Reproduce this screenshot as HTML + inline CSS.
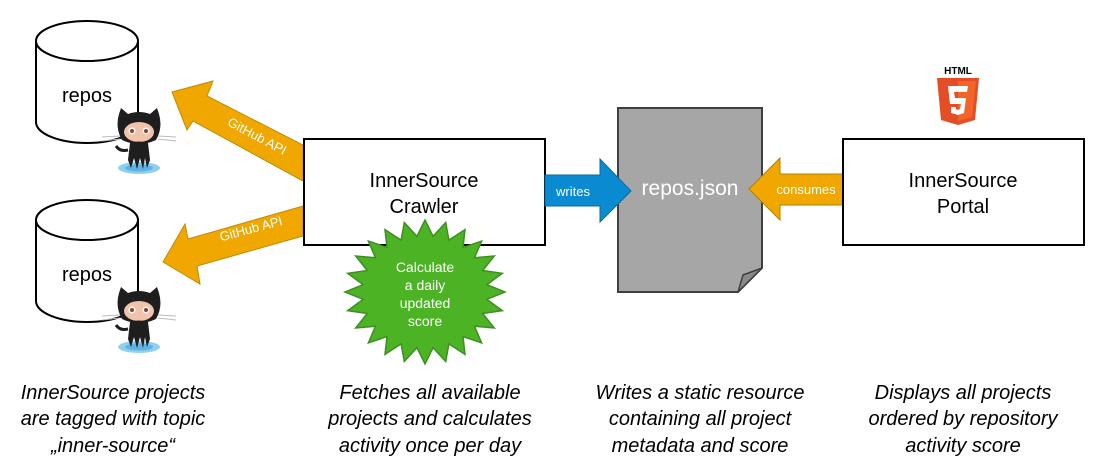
<!DOCTYPE html>
<html><head><meta charset="utf-8"><style>
html,body{margin:0;padding:0;background:#fff;}
svg{display:block;font-family:"Liberation Sans",Arial,sans-serif;}
</style></head><body>
<svg width="1097" height="475" viewBox="0 0 1097 475" xmlns="http://www.w3.org/2000/svg">
<defs>
<g id="cat">
  <ellipse cx="139" cy="168" rx="21" ry="6" fill="#8fd0f0"/>
  <ellipse cx="139" cy="168" rx="14" ry="3.5" fill="#5fb4e6"/>
  <path d="M119 114 L121 108 L128 114 Q139 110 150 114 L157 108 L159 114 Q163 128 156 140 Q139 148 122 140 Q115 128 119 114Z" fill="#1e1e1e"/>
  <ellipse cx="139" cy="132" rx="15" ry="10" fill="#f1c3aa"/>
  <circle cx="132" cy="131" r="3.5" fill="#fff"/><circle cx="132" cy="131" r="2" fill="#9b3b2b"/>
  <circle cx="146" cy="131" r="3.5" fill="#fff"/><circle cx="146" cy="131" r="2" fill="#9b3b2b"/>
  <path d="M130 143 Q139 140 148 143 L150 160 L147 168 L145 158 L143 169 L140 158 L137 169 L134 158 L131 168 L128 160Z" fill="#1e1e1e"/>
  <path d="M128 150 Q120 152 116 146" stroke="#1e1e1e" stroke-width="3" fill="none"/>
  <path d="M102 137 L120 136 M102 141 L120 139 M158 136 L176 137 M158 139 L176 141" stroke="#bbb" stroke-width="1"/>
</g>
</defs>
<!-- cylinders -->
<g fill="#fff" stroke="#000" stroke-width="2">
  <path d="M36 41 L36 122 A51 21 0 0 0 138 122 L138 41"/>
  <ellipse cx="87" cy="41" rx="51" ry="20"/>
  <path d="M36 220 L36 301 A51 21 0 0 0 138 301 L138 220"/>
  <ellipse cx="87" cy="220" rx="51" ry="20"/>
</g>
<text x="87" y="102" font-size="20" text-anchor="middle">repos</text>
<text x="87" y="281" font-size="20" text-anchor="middle">repos</text>
<use href="#cat"/>
<use href="#cat" transform="translate(0,179)"/>
<!-- orange arrows -->
<polygon points="172,92 213,81 207,96 303,145 303,181 193,121 187,130" fill="#f0a800" stroke="#c08a00" stroke-width="1"/>
<polygon points="163,262 185,224 188,239 303,206 303,236 197,266 200,284" fill="#f0a800" stroke="#c08a00" stroke-width="1"/>
<text x="0" y="0" font-size="13" fill="#fff" text-anchor="middle" transform="translate(255,140) rotate(28)">GitHub API</text>
<text x="0" y="0" font-size="13" fill="#fff" text-anchor="middle" transform="translate(252,233) rotate(-15)">GitHub API</text>
<!-- crawler box -->
<rect x="304" y="139" width="241" height="106" fill="#fff" stroke="#000" stroke-width="2"/>
<text x="424" y="187" font-size="20" text-anchor="middle">InnerSource</text>
<text x="424" y="213" font-size="20" text-anchor="middle">Crawler</text>
<!-- star -->
<polygon id="star" fill="#4cb424" stroke="#3e8f22" stroke-width="1.5"/>
<text font-size="14" fill="#fff" text-anchor="middle"><tspan x="425" y="272">Calculate</tspan><tspan x="425" y="290">a daily</tspan><tspan x="425" y="308">updated</tspan><tspan x="425" y="326">score</tspan></text>
<!-- document -->
<path d="M618 108 L762 108 L762 268 L738 292 L618 292 Z" fill="#a6a6a6" stroke="#404040" stroke-width="2"/>
<path d="M762 268 L743 275 L738 292 Z" fill="#8a8a8a" stroke="#404040" stroke-width="1.5"/>
<text x="690" y="195" font-size="21" fill="#fff" text-anchor="middle">repos.json</text>
<!-- writes arrow -->
<polygon points="545,175 600,175 600,159 631,191 600,222 600,206 545,206" fill="#0a8ad0" stroke="#0a6aa0" stroke-width="1"/>
<text x="573" y="196" font-size="13" fill="#fff" text-anchor="middle">writes</text>
<!-- consumes arrow -->
<polygon points="843,174 780,174 780,158 749,189 780,220 780,205 843,205" fill="#f0a800" stroke="#b08000" stroke-width="1"/>
<text x="806" y="194" font-size="13" fill="#fff" text-anchor="middle">consumes</text>
<!-- portal -->
<rect x="843" y="139" width="241" height="106" fill="#fff" stroke="#000" stroke-width="2"/>
<text x="963" y="187" font-size="20" text-anchor="middle">InnerSource</text>
<text x="963" y="213" font-size="20" text-anchor="middle">Portal</text>
<!-- html5 -->
<text x="958" y="74" font-size="10" font-weight="bold" text-anchor="middle">HTML</text>
<path d="M937 78 L979 78 L975 120 L958 125 L941 120 Z" fill="#e44d26"/>
<path d="M958 81 L976 81 L972 117 L958 121 Z" fill="#f16529"/>
<path d="M948 86 L968 86 L967 92 L954 92 L955 98 L966 98 L964 113 L958 115 L951 113 L951 107 L956 107 L956 109 L958 110 L960 109 L961 104 L950 104 Z" fill="#fff"/>
<!-- captions -->
<g font-size="20" font-style="italic" text-anchor="middle">
<text x="113" y="399">InnerSource projects</text><text x="113" y="425">are tagged with topic</text><text x="113" y="452">„inner-source“</text>
<text x="430" y="399">Fetches all available</text><text x="430" y="425">projects and calculates</text><text x="430" y="452">activity once per day</text>
<text x="700" y="399">Writes a static resource</text><text x="700" y="425">containing all project</text><text x="700" y="452">metadata and score</text>
<text x="963" y="399">Displays all projects</text><text x="963" y="425">ordered by repository</text><text x="963" y="452">activity score</text>
</g>
</svg>
<script>
(function(){var cx=425,cy=292,n=24,p=[];for(var i=0;i<2*n;i++){var a=Math.PI*i/n-Math.PI/2;var ro=i%2?0.78:1;p.push((cx+80*ro*Math.cos(a)).toFixed(1)+','+(cy+72*ro*Math.sin(a)).toFixed(1));}document.getElementById('star').setAttribute('points',p.join(' '));})();
</script>
</body></html>
